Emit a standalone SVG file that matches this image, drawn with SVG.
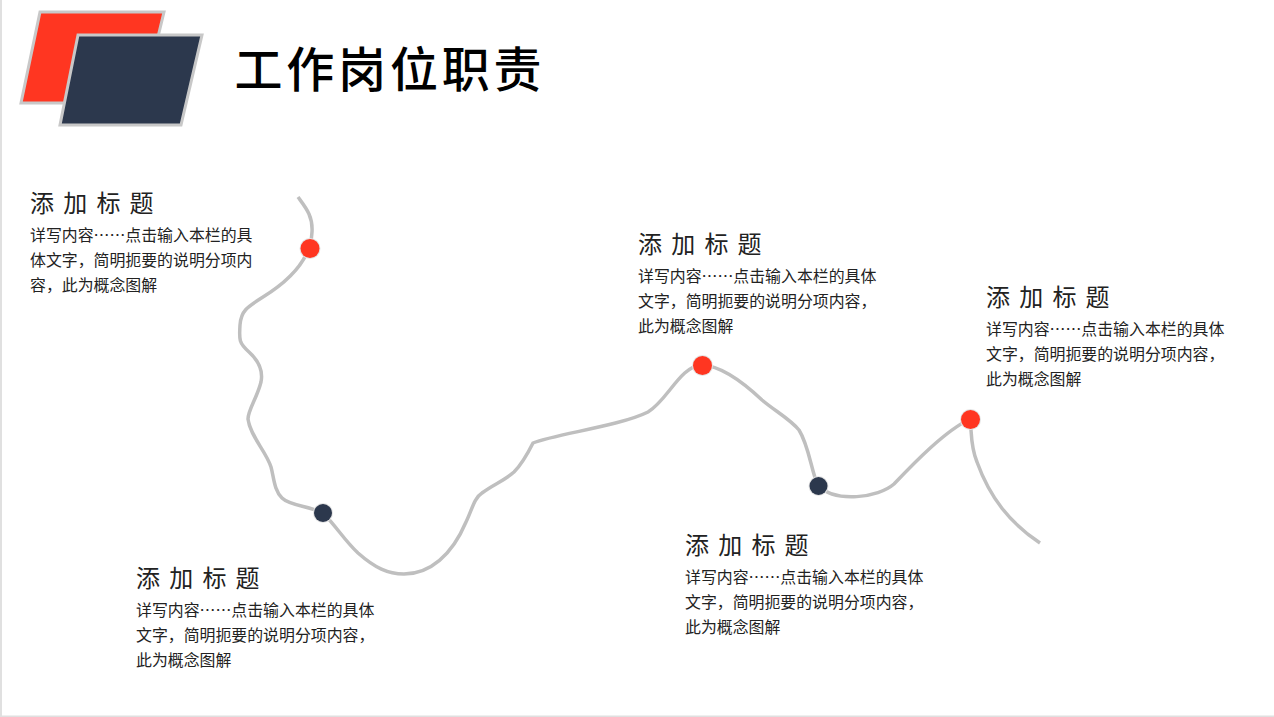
<svg xmlns="http://www.w3.org/2000/svg" width="1274" height="717" viewBox="0 0 1274 717">
<defs>
<style>
text{font-family:"Noto Sans CJK SC","Noto Sans",sans-serif}
.h{font-size:24px;letter-spacing:9.200px;fill:#222}
.b{font-size:15.900px;fill:#222}
.t{font-size:48px;letter-spacing:3.800px;fill:#000;font-weight:500}
.para{stroke:#c8c8c8;stroke-width:3}
.red{fill:#ff3621}
.navy{fill:#2c384d}
.dot{stroke:#e4e4e4;stroke-width:2;paint-order:stroke}
</style>
</defs>
<rect width="1274" height="717" fill="#fff"/>
<rect x="0" y="0" width="2" height="717" fill="#e0e0e0"/>
<rect x="0" y="715.500" width="1274" height="1.500" fill="#e0e0e0"/>
<g id="logo">
<polygon class="para red" points="40,12 164,12 142,103 21,103"/>
<polygon class="para navy" points="78,35 202,35 181,125 60,125"/>
</g>
<text id="title" class="t" x="234.500" y="87">工作岗位职责</text>
<g id="connectors">
<path fill="none" stroke="#bfbfbf" stroke-width="3.500" d="M298 197 C306 208 313 216 312 232 C311 258 292 279 263 297 C247 307 241 311 240 325 C239 340 239 343 249 352 C260 362 263 372 261 382 C257 398 248 410 248 419 C250 436 266 451 271 467 C274 478 274 490 282 498 C290 506 310 506 323 513 C336 526 345 541 358 553 C375 568 388 574 404 574 C430 574 452 555 466 522 C472 510 474 498 482 493 C494 484 504 481 514 472 C522 464 528 453 533 443 C555 434 620 426 648 412 C668 400 680 366 702 365 C722 366 745 384 762 400 C775 411 790 419 799 430 C809 446 811 470 818 486 C836 503 878 498 894 484 C915 462 945 431 970 419 C972 432 970 445 977 462 C990 498 1010 523 1040 543"/>
</g>
<g id="node-1">
<circle class="red dot" cx="310" cy="248.500" r="9.500"/>
<text class="h" x="30" y="212">添加标题</text>
<text class="b" x="30" y="241">详写内容……点击输入本栏的具</text>
<text class="b" x="30" y="266">体文字，简明扼要的说明分项内</text>
<text class="b" x="30" y="291">容，此为概念图解</text>
</g>
<g id="node-2">
<circle class="navy dot" cx="323" cy="513" r="9"/>
<text class="h" x="136" y="587">添加标题</text>
<text class="b" x="136" y="616">详写内容……点击输入本栏的具体</text>
<text class="b" x="136" y="641">文字，简明扼要的说明分项内容，</text>
<text class="b" x="136" y="666">此为概念图解</text>
</g>
<g id="node-3">
<circle class="red dot" cx="702.500" cy="365.500" r="9.500"/>
<text class="h" x="638" y="253">添加标题</text>
<text class="b" x="638" y="282">详写内容……点击输入本栏的具体</text>
<text class="b" x="638" y="307">文字，简明扼要的说明分项内容，</text>
<text class="b" x="638" y="332">此为概念图解</text>
</g>
<g id="node-4">
<circle class="navy dot" cx="818.500" cy="486" r="9"/>
<text class="h" x="685" y="554">添加标题</text>
<text class="b" x="685" y="583">详写内容……点击输入本栏的具体</text>
<text class="b" x="685" y="608">文字，简明扼要的说明分项内容，</text>
<text class="b" x="685" y="633">此为概念图解</text>
</g>
<g id="node-5">
<circle class="red dot" cx="970.500" cy="419.500" r="9.500"/>
<text class="h" x="986" y="306">添加标题</text>
<text class="b" x="986" y="335">详写内容……点击输入本栏的具体</text>
<text class="b" x="986" y="360">文字，简明扼要的说明分项内容，</text>
<text class="b" x="986" y="385">此为概念图解</text>
</g>
</svg>
